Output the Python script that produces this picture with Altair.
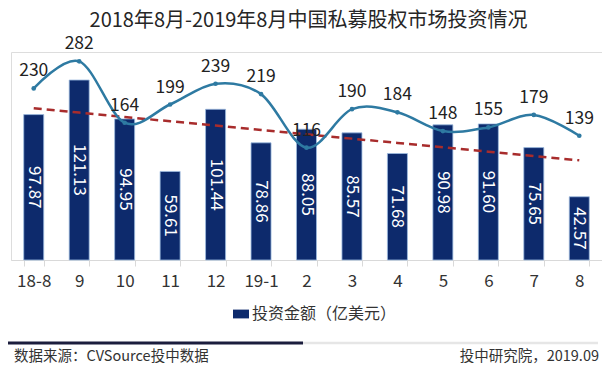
import altair as alt
import pandas as pd
import numpy as np

FONT = "Noto Sans CJK SC"

months = ["18-8", "9", "10", "11", "12", "19-1", "2", "3", "4", "5", "6", "7", "8"]
amount = [97.87, 121.13, 94.95, 59.61, 101.44, 78.86, 88.05, 85.57, 71.68, 90.98, 91.60, 75.65, 42.57]
cases = [230, 282, 164, 199, 239, 219, 116, 190, 184, 148, 155, 179, 139]
series_name = "投资金额（亿美元）"
title_text = "2018年8月-2019年8月中国私募股权市场投资情况"
source_text = "数据来源：CVSource投中数据"
credit_text = "投中研究院，2019.09"

idx = np.arange(len(months))
slope, intercept = np.polyfit(idx, amount, 1)

df = pd.DataFrame({
    "month": months,
    "amount": amount,
    "cases": cases,
    "half": [a / 2 for a in amount],
    "trend": intercept + slope * idx,
    "series": series_name,
    "amount_label": [f"{a:.2f}" for a in amount],
})

W, H = 591, 208
BAR_COLOR = "#0d2a6c"
LINE_COLOR = "#2e7aa2"

x = alt.X(
    "month:N", sort=months,
    scale=alt.Scale(paddingInner=0.56, paddingOuter=0.28),
    axis=alt.Axis(title=None, labelFontSize=17, labelColor="#333333", labelFont=FONT,
                  domainColor="#d9d9d9", tickColor="#d9d9d9", tickSize=6,
                  tickBand="extent", labelPadding=7, labelAngle=0, grid=False),
)
ybar = alt.Scale(domain=[0, 140])
yline = alt.Scale(domain=[-100, 300])

base = alt.Chart(df)

bars = base.mark_bar(stroke="#9dbbe0", strokeWidth=0.8).encode(
    x=x,
    y=alt.Y("amount:Q", scale=ybar, axis=None),
    color=alt.Color("series:N", scale=alt.Scale(range=[BAR_COLOR]),
                    legend=alt.Legend(orient="none", legendX=222, legendY=254, title=None,
                                      labelFontSize=16, labelColor="#333333", labelFont=FONT,
                                      symbolType="M-1,-0.55H1V0.55H-1Z", symbolSize=256,
                                      symbolStrokeWidth=0, labelOffset=3, padding=0)),
)

bar_labels = base.mark_text(angle=90, color="white", fontSize=17, font=FONT,
                            align="center", baseline="middle").encode(
    x=x,
    y=alt.Y("half:Q", scale=ybar, axis=None),
    text="amount_label:N",
)

trend = base.mark_line(color="#a82c2c", strokeWidth=2.5, strokeDash=[8, 5]).encode(
    x=x,
    y=alt.Y("trend:Q", scale=ybar, axis=None),
)

line = base.mark_line(color=LINE_COLOR, strokeWidth=2.5, interpolate="cardinal").encode(
    x=x,
    y=alt.Y("cases:Q", scale=yline, axis=None),
)

points = base.mark_circle(color=LINE_COLOR, size=22, opacity=1).encode(
    x=x,
    y=alt.Y("cases:Q", scale=yline, axis=None),
)

line_labels = base.mark_text(fontSize=17.5, font=FONT, color="#222222",
                             baseline="alphabetic", dy=-12).encode(
    x=x,
    y=alt.Y("cases:Q", scale=yline, axis=None),
    text="cases:Q",
)

title = alt.Chart(pd.DataFrame({"t": [title_text]})).mark_text(
    fontSize=20, font=FONT, color="#262626", align="center", baseline="middle"
).encode(x=alt.value(W / 2 + 2), y=alt.value(-31), text="t:N")

footer_df = pd.DataFrame({"t": [source_text]})
src = alt.Chart(footer_df).mark_text(
    fontSize=14.5, font=FONT, color="#333333", align="left", baseline="middle"
).encode(x=alt.value(3), y=alt.value(305), text="t:N")

credit = alt.Chart(pd.DataFrame({"t": [credit_text]})).mark_text(
    fontSize=14.5, font=FONT, color="#333333", align="right", baseline="middle"
).encode(x=alt.value(588), y=alt.value(305), text="t:N")

rule_df = pd.DataFrame({"k": [0]})
rule_dark = alt.Chart(rule_df).mark_rule(color="#1b1d3d", strokeWidth=3).encode(
    x=alt.value(-3), x2=alt.value(292), y=alt.value(291))
rule_grey = alt.Chart(rule_df).mark_rule(color="#e6e6e6", strokeWidth=2.5).encode(
    x=alt.value(292), x2=alt.value(587), y=alt.value(291))

chart = alt.layer(
    bars, trend, line, points, bar_labels, line_labels, title, src, credit, rule_dark, rule_grey
).resolve_scale(y="independent").properties(
    width=W, height=H,
    autosize=alt.AutoSizeParams(type="none"),
    padding={"left": 3, "top": 44, "right": 0, "bottom": 104},
).configure_view(stroke=None).configure(font=FONT)

chart.save("out.html", embed_options={"renderer": "svg", "actions": False})
